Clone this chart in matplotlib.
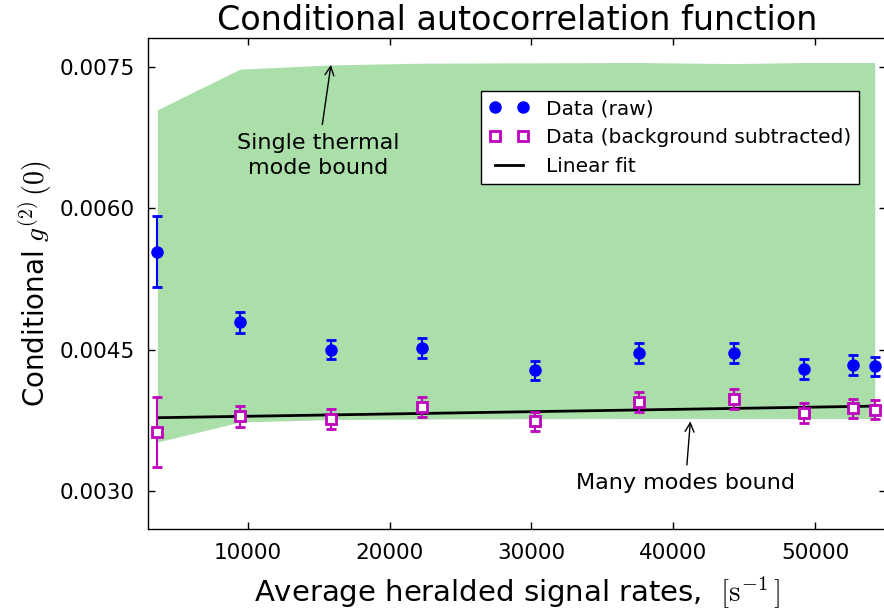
import matplotlib
matplotlib.use('Agg')
import matplotlib.pyplot as plt
import numpy as np

plt.rcParams['mathtext.fontset'] = 'cm'
plt.rcParams['font.family'] = 'DejaVu Sans'

# average heralded signal rates [1/s]
rates = np.array([3640, 9460, 15860, 22320, 30250, 37550, 44240, 49230, 52680, 54190])

# conditional g2(0), raw data
g2_raw = np.array([0.005535, 0.004790, 0.004500, 0.004518, 0.004278,
                   0.004458, 0.004461, 0.004292, 0.004334, 0.004320])
g2_raw_err = np.array([0.000376, 0.000111, 0.000105, 0.000105, 0.000103,
                       0.000106, 0.000106, 0.000104, 0.000103, 0.000104])

# background subtracted
g2_sub = np.array([0.003625, 0.003791, 0.003767, 0.003889, 0.003738,
                   0.003947, 0.003971, 0.003830, 0.003876, 0.003862])
g2_sub_err = np.array([0.000376, 0.000109, 0.000105, 0.000105, 0.000103,
                       0.000106, 0.000106, 0.000104, 0.000103, 0.000104])

# bounds
single_mode = np.array([0.007042, 0.007473, 0.007518, 0.007536, 0.007540,
                        0.007543, 0.007532, 0.007543, 0.007543, 0.007543])
many_modes = np.array([0.003519, 0.003731, 0.003757, 0.003763, 0.003766,
                       0.003767, 0.003767, 0.003767, 0.003767, 0.003767])

# linear fit of background subtracted data
fit_slope = 2.43e-9
fit_intercept = 0.003768

fig = plt.figure(figsize=(8.84, 6.13), dpi=100)
ax = fig.add_axes([148.3/884, 1 - 528.7/613, (886.2 - 148.3)/884, (528.7 - 38.3)/613])

ax.fill_between(rates, many_modes, single_mode, color='#aadfaa', lw=0, zorder=0)
fit_line, = ax.plot(rates, fit_intercept + fit_slope*rates, 'k-', lw=2, zorder=2)

raw = ax.errorbar(rates, g2_raw, yerr=g2_raw_err, fmt='o', color='b', ms=8,
                  elinewidth=1.5, capsize=3.5, capthick=2, zorder=3)
sub = ax.errorbar(rates, g2_sub, yerr=g2_sub_err, fmt='s', color='m', mfc='w',
                  mec='m', mew=2, ms=7, elinewidth=1.5, capsize=3.5, capthick=2, zorder=3)

ax.set_xlim(3000, 55000)
ax.set_ylim(0.0026, 0.0078)
ax.set_xticks([10000, 20000, 30000, 40000, 50000])
ax.set_yticks([0.0030, 0.0045, 0.0060, 0.0075])
ax.set_yticklabels(['0.0030', '0.0045', '0.0060', '0.0075'])
ax.tick_params(direction='in', top=True, right=True, length=5, width=1,
               labelsize=15.5, pad=10)
for s in ax.spines.values():
    s.set_linewidth(1.0)

ax.set_title('Conditional autocorrelation function', fontsize=24, pad=6)
ax.set_xlabel(r'Average heralded signal rates,  $[\mathrm{s}^{-1}\,]$', fontsize=21,
              labelpad=8)
ax.set_ylabel(r'Conditional $g^{(2)}\,(0)$', fontsize=20)

ax.annotate('Single thermal\nmode bound', xy=(15870, 0.007518), xytext=(14950, 0.006560),
            ha='center', va='center', fontsize=16, linespacing=1.3,
            arrowprops=dict(arrowstyle='->', lw=1, color='k', shrinkA=4, shrinkB=0))
ax.annotate('Many modes bound', xy=(41200, 0.003738), xytext=(40850, 0.003082),
            ha='center', va='center', fontsize=16,
            arrowprops=dict(arrowstyle='->', lw=1, color='k', shrinkA=4, shrinkB=0))

leg = ax.legend([raw[0], sub[0], fit_line],
                ['Data (raw)', 'Data (background subtracted)', 'Linear fit'],
                loc='upper right', bbox_to_anchor=(0.963, 0.8925), borderaxespad=0,
                numpoints=2, fontsize=14.5, fancybox=False, framealpha=1)
leg.get_frame().set_edgecolor('k')
leg.get_frame().set_linewidth(1.0)

fig.savefig('out.png', dpi=100)
